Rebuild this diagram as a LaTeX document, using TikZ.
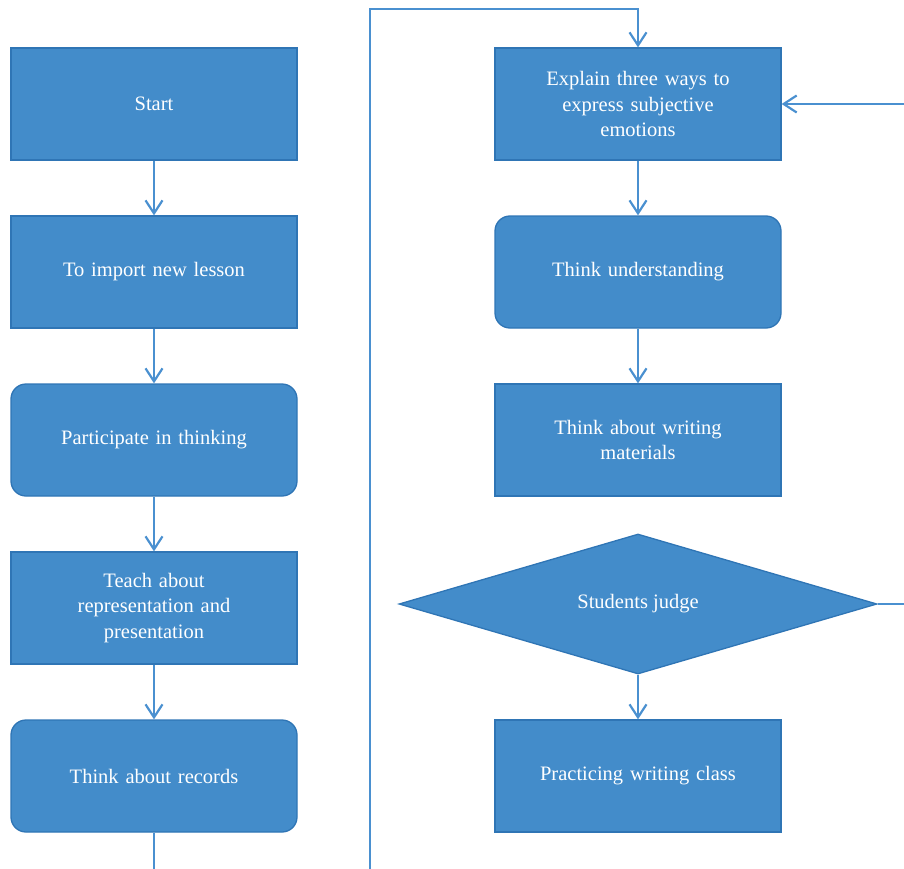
\documentclass[tikz,border=0pt]{standalone}
\usepackage{fontspec}
\setmainfont{Liberation Serif}
\usetikzlibrary{arrows.meta,shapes.geometric}
\definecolor{boxfill}{HTML}{438CCA}
\definecolor{boxedge}{HTML}{2F75B5}
\definecolor{flowline}{HTML}{4A90D0}
\begin{document}
\begin{tikzpicture}[x=1pt,y=-1pt,
  base/.style={fill=boxfill,draw=boxedge,line width=1.3pt,text=white,
    font=\fontsize{20.5}{25.5}\selectfont,align=center,
    minimum width=286pt,minimum height=112pt,inner sep=0pt,text width=260pt},
  sqbox/.style={base,rectangle},
  rdbox/.style={base,rectangle,rounded corners=15pt},
  decision/.style={fill=boxfill,draw=boxedge,line width=1.3pt,text=white,
    font=\fontsize{20.5}{25.5}\selectfont,diamond,aspect=3.4,
    minimum width=478pt,minimum height=140pt,inner sep=0pt},
  flow/.style={draw=flowline,line width=2.2pt},
  arr/.style={flow,-{Straight Barb[length=13pt,width=17pt,line width=2.2pt]}}]
\useasboundingbox (0,0) rectangle (904,869);
\begin{scope}
\clip (0,0) rectangle (904,869);
% left column
\node[sqbox] (start) at (154,104) {Start};
\node[sqbox] (import) at (154,272) {To import new lesson};
\node[rdbox] (part) at (154,440) {Participate in thinking};
\node[sqbox] (teach) at (154,608) {Teach about\\representation and\\presentation};
\node[rdbox] (records) at (154,776) {Think about records};
% right column
\node[sqbox] (explain) at (638,104) {Explain three ways to\\express subjective\\emotions};
\node[rdbox] (underst) at (638,272) {Think understanding};
\node[sqbox] (materials) at (638,440) {Think about writing\\materials};
\node[decision] (judge) at (638,604) {Students judge};
\node[sqbox] (practice) at (638,776) {Practicing writing class};
% loose ends of the connectors
\coordinate (leftout) at (154,869);
\coordinate (loopin) at (370,869);
\coordinate (rightx) at (910,604);
% connectors
\draw[arr] (start) -- (import);
\draw[arr] (import) -- (part);
\draw[arr] (part) -- (teach);
\draw[arr] (teach) -- (records);
\draw[flow] (records) -- (leftout);
\draw[arr] (loopin) -- (370,9) -- (638,9) -- (explain.north);
\draw[arr] (explain) -- (underst);
\draw[arr] (underst) -- (materials);
\draw[arr] (judge) -- (practice);
\draw[arr] (judge.east) -- (rightx) -- (910,104) -- (explain.east);
\end{scope}
\end{tikzpicture}
\end{document}
